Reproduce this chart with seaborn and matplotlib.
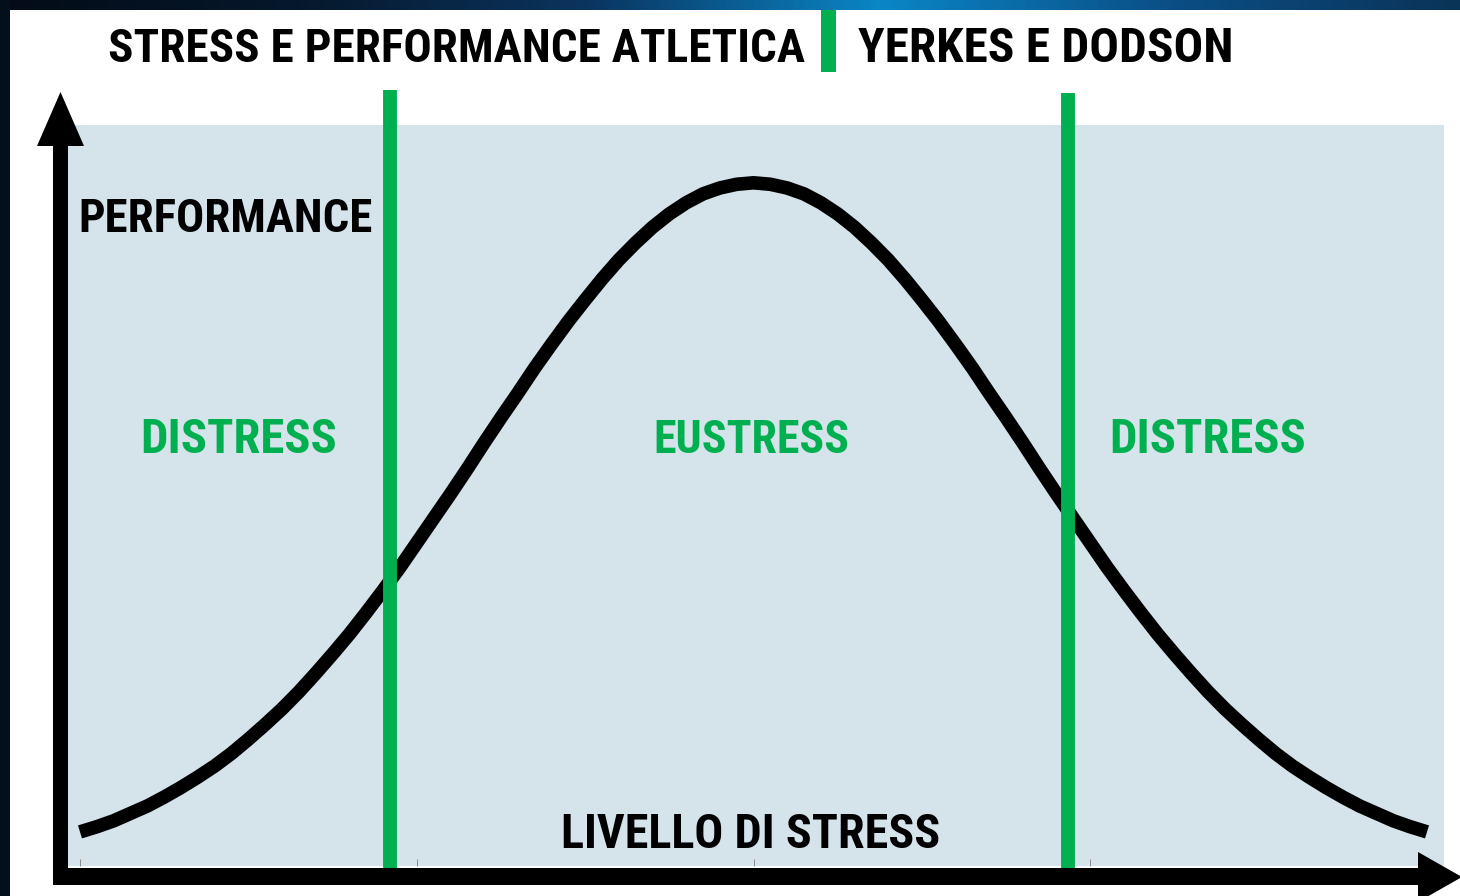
import numpy as np
import pandas as pd
import matplotlib
matplotlib.use("Agg")
import matplotlib.pyplot as plt
from matplotlib import font_manager
import seaborn as sns
from matplotlib.patches import Rectangle, Polygon
from matplotlib.colors import LinearSegmentedColormap

# values
# x = stress level in tick units (0..4), y = performance in % of panel height
stress = [0.0, 0.05, 0.1, 0.15, 0.2, 0.25, 0.3, 0.35, 0.4, 0.45,
          0.5, 0.55, 0.6, 0.65, 0.7, 0.75, 0.8, 0.85, 0.9, 0.95,
          1.0, 1.05, 1.1, 1.15, 1.2, 1.25, 1.3, 1.35, 1.4, 1.45,
          1.5, 1.55, 1.6, 1.65, 1.7, 1.75, 1.8, 1.85, 1.9, 1.95,
          2.0, 2.05, 2.1, 2.15, 2.2, 2.25, 2.3, 2.35, 2.4, 2.45,
          2.5, 2.55, 2.6, 2.65, 2.7, 2.75, 2.8, 2.85, 2.9, 2.95,
          3.0, 3.05, 3.1, 3.15, 3.2, 3.25, 3.3, 3.35, 3.4, 3.45,
          3.5, 3.55, 3.6, 3.65, 3.7, 3.75, 3.8, 3.85, 3.9, 3.95, 4.0]
performance = [4.6, 5.3, 6.1, 7.1, 8.1, 9.3, 10.6, 12.0, 13.5, 15.2,
               17.1, 19.1, 21.2, 23.5, 26.0, 28.6, 31.3, 34.2, 37.2, 40.3,
               43.6, 46.9, 50.2, 53.6, 57.1, 60.5, 63.8, 67.2, 70.4, 73.5,
               76.4, 79.2, 81.8, 84.1, 86.2, 88.0, 89.5, 90.7, 91.5, 92.0,
               92.2, 92.0, 91.5, 90.7, 89.5, 88.0, 86.2, 84.1, 81.8, 79.2,
               76.4, 73.5, 70.4, 67.2, 63.8, 60.5, 57.1, 53.6, 50.2, 46.9,
               43.6, 40.3, 37.2, 34.2, 31.3, 28.6, 26.0, 23.5, 21.2, 19.1,
               17.1, 15.2, 13.5, 12.0, 10.6, 9.3, 8.1, 7.1, 6.1, 5.3, 4.6]
thresholds = [0.92, 2.935]
zone_names = ["DISTRESS", "EUSTRESS", "DISTRESS"]
zone_x = [0.472, 1.995, 3.35]
x_ticks = [0, 1, 2, 3, 4]

title_left = "STRESS E PERFORMANCE ATLETICA"
title_right = "YERKES E DODSON"
y_label = "PERFORMANCE"
x_label = "LIVELLO DI STRESS"

GREEN = "#00b050"
PANEL = "#d5e3eb"
NAVY = "#040f1c"
W, H = 1460, 896

sns.set_theme(style="white")

# pick a condensed face if one is installed
installed = {(f.name, f.stretch) for f in font_manager.fontManager.ttflist}
names = {n for n, _ in installed}
family, stretch = "Liberation Sans", "normal"
for cand in ["Roboto Condensed", "Liberation Sans Narrow", "Open Sans Condensed"]:
    if cand in names:
        family = cand
        break
else:
    if any(n == "DejaVu Sans" and s in ("condensed", 75, "semi-condensed") for n, s in installed):
        family, stretch = "DejaVu Sans", "condensed"
plt.rcParams['font.family'] = [family, 'DejaVu Sans']
plt.rcParams['font.stretch'] = stretch
WEIGHT = "black"

fig = plt.figure(figsize=(W / 100, H / 100), dpi=100, facecolor=NAVY)

# background layer in pixel coordinates: white sheet + blue strip on top
bg = fig.add_axes([0, 0, 1, 1], zorder=0)
bg.set_xlim(0, W)
bg.set_ylim(H, 0)
bg.axis("off")
strip = LinearSegmentedColormap.from_list(
    "strip", ["#030c18", "#06182c", "#0b3560", "#0a86c6", "#0b4f86", "#0a3358"])
bg.imshow(np.linspace(0, 1, 300)[None, :], cmap=strip, aspect="auto",
          extent=[10, W, 10, 0], zorder=1)
bg.add_patch(Rectangle((10, 10), W - 10, H - 10, facecolor="white", edgecolor="none", zorder=2))

# main plot area
ax = fig.add_axes([68 / W, 30 / H, 1376 / W, 741 / H], zorder=2)
ax.set_facecolor(PANEL)
df = pd.DataFrame({"stress": stress, "performance": performance})
sns.lineplot(data=df, x="stress", y="performance", ax=ax, color="black",
             linewidth=9.8, solid_capstyle="butt", solid_joinstyle="round", zorder=3)
ax.vlines(thresholds[0], -0.3, 104.7, color=GREEN, linewidth=10, clip_on=False, zorder=4)
ax.vlines(thresholds[1], -0.3, 104.3, color=GREEN, linewidth=10, clip_on=False, zorder=4)

ax.set_xlim(-12 / 337, 4 + 17 / 337)
ax.set_ylim(0, 100)
ax.set_xticks(x_ticks)
ax.set_yticks([])
ax.tick_params(axis="x", direction="in", length=5, width=0.7, color="#8a8a8a",
               labelbottom=False, bottom=True)
ax.set_xlabel("")
ax.set_ylabel("")
for s in ax.spines.values():
    s.set_visible(False)

texts = []
for name, zx in zip(zone_names, zone_x):
    t = ax.text(zx, 55.7, name, ha="center", va="baseline", color=GREEN,
                fontsize=30, fontweight=WEIGHT, zorder=5)
    texts.append((t, 196))
t = ax.text(-0.006, 85.6, y_label, ha="left", va="baseline", color="black",
            fontsize=30, fontweight=WEIGHT, zorder=5)
texts.append((t, 294))
t = ax.text(1.99, 2.4, x_label, ha="center", va="baseline", color="black",
            fontsize=30, fontweight=WEIGHT, zorder=5)
texts.append((t, 379))

# overlay in pixel coordinates: axis arrows, title
top = fig.add_axes([0, 0, 1, 1], zorder=6)
top.set_xlim(0, W)
top.set_ylim(H, 0)
top.axis("off")
top.patch.set_alpha(0)
top.add_patch(Rectangle((53, 140), 15, 745, facecolor="black", edgecolor="none"))
top.add_patch(Polygon([(37, 146), (84, 146), (60.5, 92)], closed=True,
                      facecolor="black", edgecolor="none"))
top.add_patch(Rectangle((53, 868), 1370, 17, facecolor="black", edgecolor="none"))
top.add_patch(Polygon([(1418, 852), (1418, 902), (1462, 877)], closed=True,
                      facecolor="black", edgecolor="none"))
top.add_patch(Rectangle((821, 10), 15, 62, facecolor=GREEN, edgecolor="none"))

t = top.text(108, 62, title_left, ha="left", va="baseline", color="black",
             fontsize=30, fontweight=WEIGHT)
texts.append((t, 695))
t = top.text(858, 62, title_right, ha="left", va="baseline", color="black",
             fontsize=30, fontweight=WEIGHT)
texts.append((t, 374))

# scale each label so its width matches the reference
renderer = fig.canvas.get_renderer()
for t, target in texts:
    w = t.get_window_extent(renderer).width
    t.set_fontsize(t.get_fontsize() * target / w)

fig.savefig("out.png", dpi=100, facecolor=NAVY)
